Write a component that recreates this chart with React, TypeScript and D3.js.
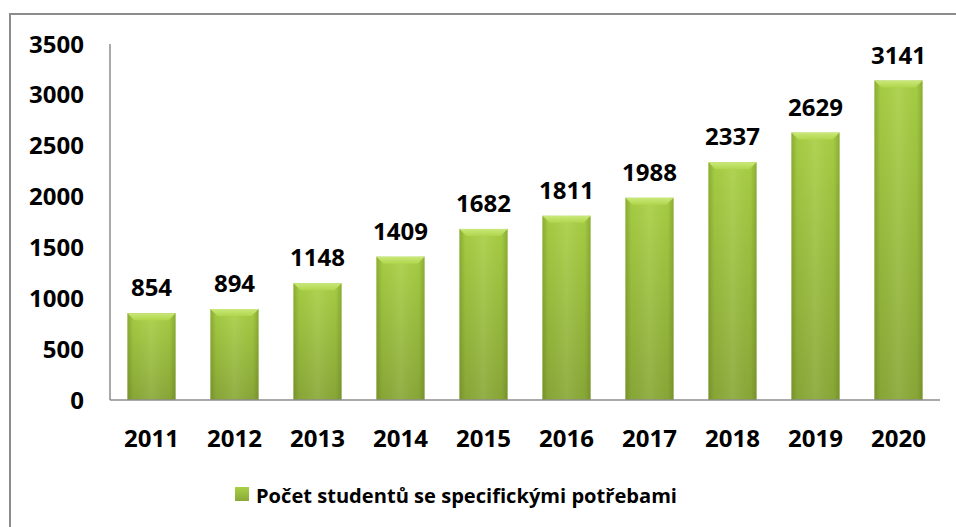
import React, { useEffect, useRef } from 'react';
import * as d3 from 'd3';

const years = ['2011', '2012', '2013', '2014', '2015', '2016', '2017', '2018', '2019', '2020'];
const students = [854, 894, 1148, 1409, 1682, 1811, 1988, 2337, 2629, 3141];
const yTicks = [0, 500, 1000, 1500, 2000, 2500, 3000, 3500];
const seriesName = 'Počet studentů se specifickými potřebami';

const W = 956;
const H = 527;
const FONT = '"Open Sans", Lato, sans-serif';

export default function App() {
  const ref = useRef<SVGSVGElement>(null);

  useEffect(() => {
    const svg = d3.select(ref.current);
    svg.selectAll('*').remove();

    const left = 110, right = 940, top = 44, bottom = 400;

    const x = d3.scaleBand().domain(years).range([left, right]).paddingInner(0.42).paddingOuter(0.21);
    const y = d3.scaleLinear().domain([0, 3500]).range([bottom, top]);

    const defs = svg.append('defs');
    const vg = defs.append('linearGradient').attr('id', 'barV').attr('x1', 0).attr('y1', 0).attr('x2', 0).attr('y2', 1);
    vg.append('stop').attr('offset', '0%').attr('stop-color', '#a9d045');
    vg.append('stop').attr('offset', '100%').attr('stop-color', '#8aa838');
    const hg = defs.append('linearGradient').attr('id', 'barH').attr('x1', 0).attr('y1', 0).attr('x2', 1).attr('y2', 0);
    hg.append('stop').attr('offset', '0%').attr('stop-color', '#4f6a12').attr('stop-opacity', 0.35);
    hg.append('stop').attr('offset', '12%').attr('stop-color', '#4f6a12').attr('stop-opacity', 0.05);
    hg.append('stop').attr('offset', '50%').attr('stop-color', '#ffffff').attr('stop-opacity', 0.08);
    hg.append('stop').attr('offset', '88%').attr('stop-color', '#4f6a12').attr('stop-opacity', 0.05);
    hg.append('stop').attr('offset', '100%').attr('stop-color', '#4f6a12').attr('stop-opacity', 0.35);
    const tg = defs.append('linearGradient').attr('id', 'bevel').attr('x1', 0).attr('y1', 0).attr('x2', 0).attr('y2', 1);
    tg.append('stop').attr('offset', '0%').attr('stop-color', '#c9e87a');
    tg.append('stop').attr('offset', '100%').attr('stop-color', '#b0d64c');

    // outer frame (cut off at right/bottom like the source)
    svg.append('rect').attr('x', 10).attr('y', 14).attr('width', 960).attr('height', 540)
      .attr('fill', 'none').attr('stroke', '#8c8c8c').attr('stroke-width', 2);

    const data = years.map((yr, i) => ({ yr, v: students[i] }));
    const bw = x.bandwidth();
    const bars = svg.append('g').selectAll('g').data(data).enter().append('g');

    bars.append('rect').attr('x', d => x(d.yr)!).attr('y', d => y(d.v))
      .attr('width', bw).attr('height', d => bottom - y(d.v)).attr('fill', 'url(#barV)');
    bars.append('rect').attr('x', d => x(d.yr)!).attr('y', d => y(d.v))
      .attr('width', bw).attr('height', d => bottom - y(d.v)).attr('fill', 'url(#barH)');
    bars.append('path')
      .attr('d', d => {
        const x0 = x(d.yr)!, y0 = y(d.v), b = 7;
        return `M${x0},${y0}L${x0 + bw},${y0}L${x0 + bw - b},${y0 + b}L${x0 + b},${y0 + b}Z`;
      })
      .attr('fill', 'url(#bevel)');

    bars.append('text')
      .attr('x', d => x(d.yr)! + bw / 2).attr('y', d => y(d.v) - 17)
      .attr('text-anchor', 'middle').attr('font-family', FONT).attr('font-weight', 'bold')
      .attr('font-size', 24).attr('fill', '#000').text(d => d.v);

    // axes
    svg.append('line').attr('x1', left).attr('x2', left).attr('y1', top).attr('y2', bottom)
      .attr('stroke', '#8c8c8c').attr('stroke-width', 1.5);
    svg.append('line').attr('x1', left).attr('x2', right).attr('y1', bottom).attr('y2', bottom)
      .attr('stroke', '#8c8c8c').attr('stroke-width', 1.5);

    svg.append('g').selectAll('text').data(yTicks).enter().append('text')
      .attr('x', 84).attr('y', d => y(d)).attr('dy', '0.36em')
      .attr('text-anchor', 'end').attr('font-family', FONT).attr('font-weight', 'bold')
      .attr('font-size', 24).attr('fill', '#000').text(d => d);

    svg.append('g').selectAll('text').data(years).enter().append('text')
      .attr('x', d => x(d)! + bw / 2).attr('y', 447)
      .attr('text-anchor', 'middle').attr('font-family', FONT).attr('font-weight', 'bold')
      .attr('font-size', 24).attr('fill', '#000').text(d => d);

    // legend
    svg.append('rect').attr('x', 235).attr('y', 487).attr('width', 14).attr('height', 14).attr('fill', 'url(#barV)');
    svg.append('text').attr('x', 256).attr('y', 503)
      .attr('font-family', FONT).attr('font-weight', 'bold').attr('font-size', 20)
      .attr('textLength', 421).attr('lengthAdjust', 'spacingAndGlyphs')
      .attr('fill', '#000').text(seriesName);
  }, []);

  return <svg ref={ref} width={W} height={H} style={{ position: 'absolute', left: 0, top: 0, background: '#fff' }} />;
}
